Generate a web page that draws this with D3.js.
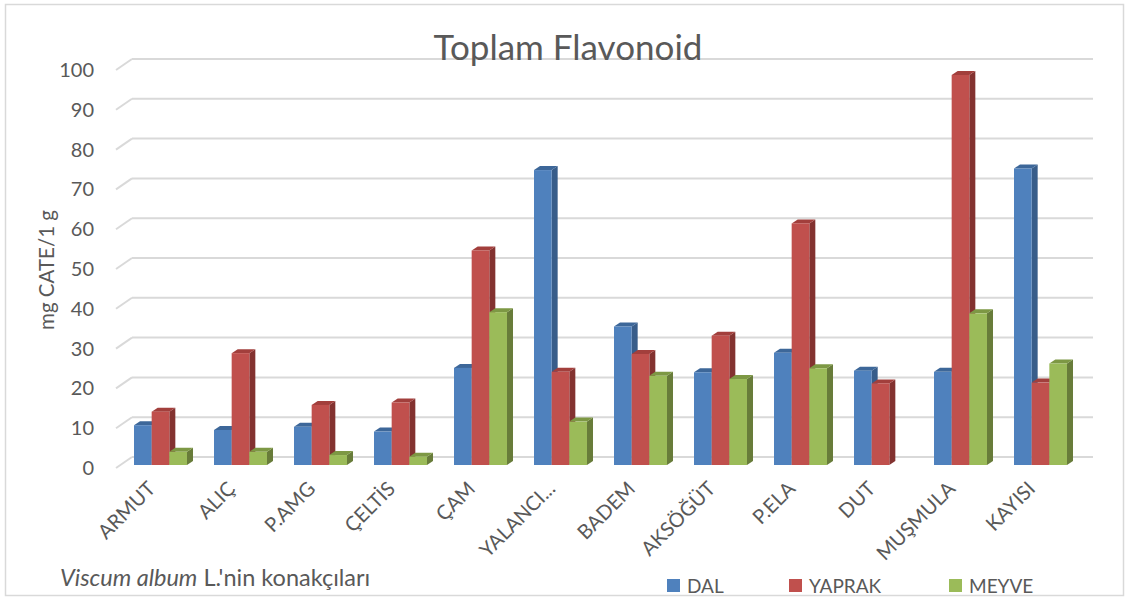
<!DOCTYPE html>
<html>
<head>
<meta charset="utf-8">
<script src="https://cdn.jsdelivr.net/npm/d3@7"></script>
<style>
body { margin: 0; background: #fff; }
svg text { font-family: Lato, "Open Sans", sans-serif; fill: #595959; }
</style>
</head>
<body>
<div id="main"></div>
<script>
// data
var categories = ["ARMUT", "ALIÇ", "P.AMG", "ÇELTİS", "ÇAM", "YALANCI...", "BADEM", "AKSÖĞÜT", "P.ELA", "DUT", "MUŞMULA", "KAYISI"];
var dal    = [10.0, 8.8, 9.6, 8.4, 24.4, 74.1, 34.8, 23.3, 28.2, 23.7, 23.4, 74.5];
var yaprak = [13.4, 28.1, 15.1, 15.7, 53.9, 23.4, 27.9, 32.5, 60.7, 20.5, 98.0, 20.7];
var meyve  = [3.3, 3.3, 2.5, 2.1, 38.4, 10.9, 22.4, 21.6, 24.3, 0, 38.1, 25.5];
var seriesNames = ["DAL", "YAPRAK", "MEYVE"];
var yTicks = [0, 10, 20, 30, 40, 50, 60, 70, 80, 90, 100];

var colors = {
    DAL:    {front: "#4f81bd", top: "#3d6799", side: "#385d8a"},
    YAPRAK: {front: "#c0504d", top: "#a23f3c", side: "#833230"},
    MEYVE:  {front: "#9bbb59", top: "#7d9844", side: "#687c3a"}
};

var w = 1129, h = 599;

var svg = d3.select("#main")
    .append("svg")
    .attr("width", w)
    .attr("height", h);

// chart border
svg.append("rect")
    .attr("x", 5.5).attr("y", 4.5)
    .attr("width", 1118).attr("height", 591)
    .attr("fill", "none")
    .attr("stroke", "#d9d9d9")
    .attr("stroke-width", 1.5);

var x = d3.scaleBand()
    .domain(categories)
    .range([120.5, 1080.5])
    .paddingInner(0.3375)
    .paddingOuter(0.16875);

var xs = d3.scaleBand()
    .domain(seriesNames)
    .range([0, x.bandwidth()]);

var y = d3.scaleLinear()
    .domain([0, 100])
    .range([465, 67]);

// gridlines: back wall + floor diagonal
var grid = svg.append("g");
yTicks.forEach(function(t) {
    grid.append("line")
	.attr("x1", 132).attr("x2", 1093)
	.attr("y1", y(t) - 8).attr("y2", y(t) - 8)
	.attr("stroke", "#d9d9d9").attr("stroke-width", 2);
    grid.append("line")
	.attr("x1", 116).attr("x2", 132)
	.attr("y1", y(t) + 3).attr("y2", y(t) - 8)
	.attr("stroke", "#d9d9d9").attr("stroke-width", 2);
});

// y tick labels
svg.append("g").selectAll("text")
    .data(yTicks)
    .enter()
    .append("text")
    .attr("x", 94)
    .attr("y", function(d) { return y(d) + 10; })
    .attr("text-anchor", "end")
    .attr("font-size", 20)
    .text(function(d) { return d; });

// y title
svg.append("text")
    .attr("transform", "translate(54,270) rotate(-90)")
    .attr("text-anchor", "middle")
    .attr("font-size", 20.5)
    .text("mg CATE/1 g");

// title
svg.append("text")
    .attr("x", 568).attr("y", 60)
    .attr("text-anchor", "middle")
    .attr("font-size", 35)
    .text("Toplam Flavonoid");

// bars
var dx = 6, dy = 4;
var rows = [];
categories.forEach(function(c, i) {
    rows.push({cat: c, s: "DAL", v: dal[i]});
    rows.push({cat: c, s: "YAPRAK", v: yaprak[i]});
    rows.push({cat: c, s: "MEYVE", v: meyve[i]});
});

var bars = svg.append("g");
rows.forEach(function(d) {
    if (d.v <= 0) return;
    var x0 = x(d.cat) + xs(d.s), bw = xs.bandwidth();
    var y0 = y(0), y1 = y(d.v);
    var c = colors[d.s];
    var g = bars.append("g");
    // right side
    g.append("path")
	.attr("d", "M" + (x0 + bw) + "," + y1 + "L" + (x0 + bw + dx) + "," + (y1 - dy) +
	      "L" + (x0 + bw + dx) + "," + (y0 - dy) + "L" + (x0 + bw) + "," + y0 + "Z")
	.attr("fill", c.side);
    // top
    g.append("path")
	.attr("d", "M" + x0 + "," + y1 + "L" + (x0 + dx) + "," + (y1 - dy) +
	      "L" + (x0 + bw + dx) + "," + (y1 - dy) + "L" + (x0 + bw) + "," + y1 + "Z")
	.attr("fill", c.top);
    // front
    g.append("rect")
	.attr("x", x0).attr("y", y1)
	.attr("width", bw).attr("height", y0 - y1)
	.attr("fill", c.front);
});

// x labels
svg.append("g").selectAll("text")
    .data(categories)
    .enter()
    .append("text")
    .attr("transform", function(d) {
	return "translate(" + (x(d) + x.bandwidth() / 2 - 4) + ",490) rotate(-45)";
    })
    .attr("text-anchor", "end")
    .attr("font-size", 20)
    .text(function(d) { return d; });

// axis caption
var cap = svg.append("text")
    .attr("x", 60).attr("y", 586)
    .attr("font-size", 23.5);
cap.append("tspan").attr("font-style", "italic").text("Viscum album");
cap.append("tspan").text(" L.'nin konakçıları");

// legend
var legX = [667, 789, 949];
var leg = svg.append("g").selectAll("g")
    .data(seriesNames)
    .enter()
    .append("g")
    .attr("transform", function(d, i) { return "translate(" + legX[i] + ",579)"; });
leg.append("rect")
    .attr("width", 13).attr("height", 13)
    .attr("fill", function(d) { return colors[d].front; });
leg.append("text")
    .attr("x", 20).attr("y", 14)
    .attr("font-size", 19)
    .text(function(d) { return d; });
</script>
</body>
</html>
